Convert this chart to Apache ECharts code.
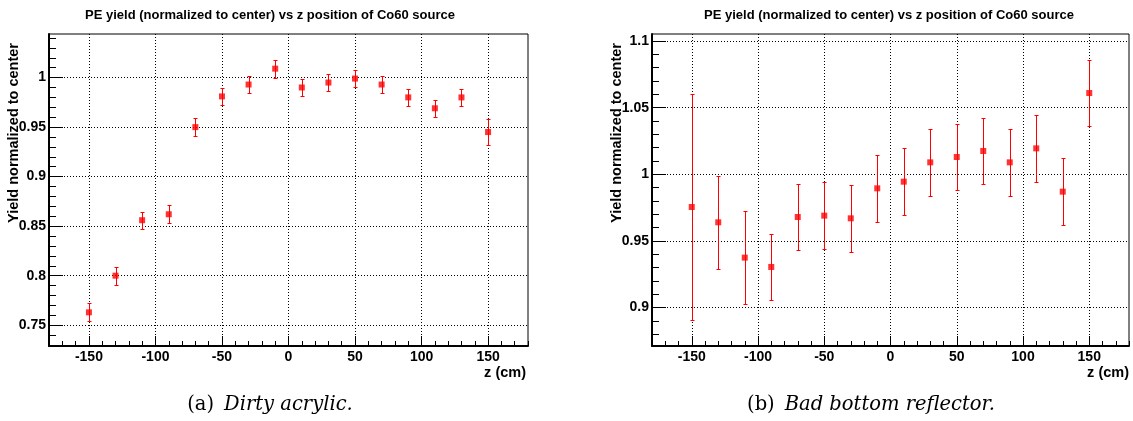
<!DOCTYPE html>
<html>
<head>
<meta charset="utf-8">
<script src="https://cdn.jsdelivr.net/npm/echarts@6/dist/echarts.min.js"></script>
<style>
html,body{margin:0;padding:0;background:#fff;}
#chart{width:1133px;height:421px;}
</style>
</head>
<body>
<div id="chart"></div>
<script>
// ---- data ----
var zPositions = [-150, -130, -110, -90, -70, -50, -30, -10, 10, 30, 50, 70, 90, 110, 130, 150];
var yieldDirty = [0.763, 0.800, 0.856, 0.862, 0.950, 0.981, 0.993, 1.009, 0.990, 0.995, 0.999, 0.993, 0.980, 0.969, 0.980, 0.945];
var errDirty   = [0.009, 0.009, 0.0087, 0.009, 0.0087, 0.0087, 0.0087, 0.009, 0.0087, 0.0087, 0.0087, 0.0087, 0.0087, 0.0086, 0.0087, 0.013];
var yieldBad   = [0.9755, 0.964, 0.9375, 0.9305, 0.968, 0.969, 0.967, 0.9895, 0.9945, 1.009, 1.013, 1.0175, 1.009, 1.0195, 0.987, 1.061];
var errBad     = [0.085, 0.035, 0.035, 0.025, 0.025, 0.025, 0.025, 0.025, 0.025, 0.025, 0.025, 0.025, 0.025, 0.025, 0.025, 0.025];

var xMajorTicks = [-150, -100, -50, 0, 50, 100, 150];
var xMinorTicks = [-180,-170,-160,-150,-140,-130,-120,-110,-100,-90,-80,-70,-60,-50,-40,-30,-20,-10,0,10,20,30,40,50,60,70,80,90,100,110,120,130,140,150,160,170,180];
var yMajorTicksA = [0.75, 0.8, 0.85, 0.9, 0.95, 1];
var yMinorTicksA = [0.73,0.74,0.75,0.76,0.77,0.78,0.79,0.8,0.81,0.82,0.83,0.84,0.85,0.86,0.87,0.88,0.89,0.9,0.91,0.92,0.93,0.94,0.95,0.96,0.97,0.98,0.99,1,1.01,1.02,1.03,1.04];
var yMajorTicksB = [0.9, 0.95, 1, 1.05, 1.1];
var yMinorTicksB = [0.88,0.89,0.9,0.91,0.92,0.93,0.94,0.95,0.96,0.97,0.98,0.99,1,1.01,1.02,1.03,1.04,1.05,1.06,1.07,1.08,1.09,1.1];

var plotTitle = 'PE yield (normalized to center) vs z position of Co60 source';
var yName = 'Yield normalized to center';
var xName = 'z (cm)';
var captionA = ['(a)', 'Dirty acrylic.'];
var captionB = ['(b)', 'Bad bottom reflector.'];

// ---- style ----
var FONT = '"Liberation Sans", Arial, Helvetica, sans-serif';
var RED = '#ff0000';

function pairs(xs, ys) { return xs.map(function (x, i) { return [x, ys[i]]; }); }
function triples(xs, ys, es) { return xs.map(function (x, i) { return [x, ys[i], es[i]]; }); }

function majorX(grid) {
  return {
    type: 'value', gridIndex: grid, min: -180, max: 180, position: 'bottom',
    axisLine: { show: true, onZero: false, lineStyle: { color: '#000', width: 2 } },
    axisTick: { show: true, inside: true, length: 10, customValues: xMajorTicks, lineStyle: { color: '#000', width: 1 } },
    axisLabel: { show: true, customValues: xMajorTicks, color: '#000', fontFamily: FONT, fontWeight: 'bold', fontSize: 14, margin: 4 },
    splitLine: { show: true, lineStyle: { color: '#000', width: 1, type: [1, 2] } }
  };
}
function minorX(grid) {
  return {
    type: 'value', gridIndex: grid, min: -180, max: 180, position: 'bottom',
    axisLine: { show: false, onZero: false },
    axisTick: { show: true, inside: true, length: 5, customValues: xMinorTicks, lineStyle: { color: '#000', width: 1 } },
    axisLabel: { show: false },
    splitLine: { show: false }
  };
}
function majorY(grid, mn, mx, ticks) {
  return {
    type: 'value', gridIndex: grid, min: mn, max: mx, position: 'left',
    axisLine: { show: true, onZero: false, lineStyle: { color: '#000', width: 2 } },
    axisTick: { show: true, inside: true, length: 14, customValues: ticks, lineStyle: { color: '#000', width: 1 } },
    axisLabel: { show: true, customValues: ticks, color: '#000', fontFamily: FONT, fontWeight: 'bold', fontSize: 14, margin: 3 },
    splitLine: { show: true, lineStyle: { color: '#000', width: 1, type: [1, 2] } }
  };
}
function minorY(grid, mn, mx, ticks) {
  return {
    type: 'value', gridIndex: grid, min: mn, max: mx, position: 'left',
    axisLine: { show: false, onZero: false },
    axisTick: { show: true, inside: true, length: 7, customValues: ticks, lineStyle: { color: '#000', width: 1 } },
    axisLabel: { show: false },
    splitLine: { show: false }
  };
}

function renderErr(params, api) {
  var x = api.value(0), y = api.value(1), e = api.value(2);
  var top = api.coord([x, y + e]);
  var bot = api.coord([x, y - e]);
  var cx = Math.round(top[0]) + 0.5;
  var ty = Math.round(top[1]) + 0.5, by = Math.round(bot[1]) + 0.5;
  var st = { stroke: RED, lineWidth: 1 };
  return {
    type: 'group',
    children: [
      { type: 'line', shape: { x1: cx, y1: ty, x2: cx, y2: by }, style: st },
      { type: 'line', shape: { x1: cx - 2, y1: ty, x2: cx + 2, y2: ty }, style: st },
      { type: 'line', shape: { x1: cx - 2, y1: by, x2: cx + 2, y2: by }, style: st }
    ]
  };
}

function errSeries(xi, yi, data) {
  return {
    type: 'custom', xAxisIndex: xi, yAxisIndex: yi, data: data,
    encode: { x: 0, y: 1 }, renderItem: renderErr, silent: true, z: 2
  };
}
function ptSeries(xi, yi, data) {
  return {
    type: 'scatter', xAxisIndex: xi, yAxisIndex: yi, data: data,
    symbol: 'rect', symbolSize: 6, itemStyle: { color: RED }, z: 3, silent: true
  };
}

function txt(x, y, text, size, align, rot) {
  var o = {
    type: 'text', x: x, y: y, silent: true,
    style: { text: text, fill: '#000', font: 'bold ' + size + 'px ' + FONT, textAlign: align || 'center', textVerticalAlign: 'middle' }
  };
  if (rot) { o.rotation = rot; }
  return o;
}
function caption(x, y, parts) {
  return {
    type: 'text', x: x, y: y, silent: true,
    style: {
      text: '{n|' + parts[0] + '}   {i|' + parts[1] + '}',
      textAlign: 'center', textVerticalAlign: 'middle',
      rich: {
        n: { fontFamily: '"DejaVu Serif", serif', fontSize: 19.5, fill: '#000', fontStyle: 'normal' },
        i: { fontFamily: '"DejaVu Serif", serif', fontSize: 19.5, fill: '#000', fontStyle: 'italic' }
      }
    }
  };
}

var chart = echarts.init(document.getElementById('chart'), null, { renderer: 'canvas' });
chart.setOption({
  animation: false,
  backgroundColor: '#fff',
  grid: [
    { left: 49, top: 34, width: 479, height: 312, show: true, borderColor: '#000', borderWidth: 1, backgroundColor: 'transparent' },
    { left: 652, top: 34, width: 477, height: 312, show: true, borderColor: '#000', borderWidth: 1, backgroundColor: 'transparent' }
  ],
  xAxis: [majorX(0), minorX(0), majorX(1), minorX(1)],
  yAxis: [
    majorY(0, 0.729, 1.044, yMajorTicksA), minorY(0, 0.729, 1.044, yMinorTicksA),
    majorY(1, 0.8712, 1.1053, yMajorTicksB), minorY(1, 0.8712, 1.1053, yMinorTicksB)
  ],
  series: [
    errSeries(0, 0, triples(zPositions, yieldDirty, errDirty)),
    ptSeries(0, 0, pairs(zPositions, yieldDirty)),
    errSeries(2, 2, triples(zPositions, yieldBad, errBad)),
    ptSeries(2, 2, pairs(zPositions, yieldBad))
  ],
  graphic: [
    txt(270, 15, plotTitle, 13),
    txt(889, 15, plotTitle, 13),
    txt(14, 43, yName, 14.5, 'right', Math.PI / 2),
    txt(617, 43, yName, 14.5, 'right', Math.PI / 2),
    txt(526, 373, xName, 14.5, 'right'),
    txt(1129, 373, xName, 14.5, 'right'),
    caption(270, 405, captionA),
    caption(871, 405, captionB)
  ]
});
</script>
</body>
</html>
